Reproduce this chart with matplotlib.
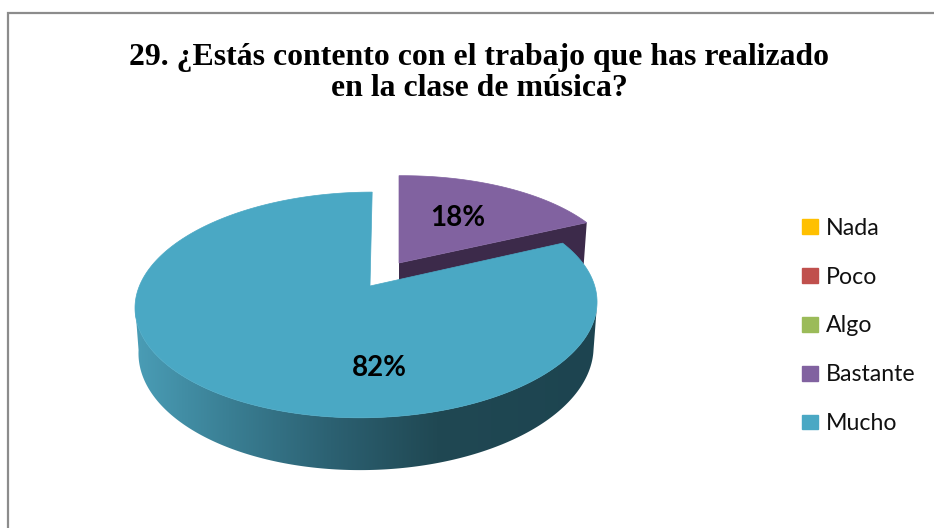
#!/usr/bin/env python3
"""Pseudo-3D exploded pie for survey question 29."""
import numpy as np
import matplotlib
matplotlib.use("Agg")
import matplotlib.pyplot as plt
import matplotlib.patches as mpatches
from matplotlib.colors import LinearSegmentedColormap

categories = ["Nada", "Poco", "Algo", "Bastante", "Mucho"]
values = [0, 0, 0, 18, 82]
title = "29. ¿Estás contento con el trabajo que has realizado\nen la clase de música?"

COLORS = ["#FFC000", "#C0504D", "#9BBB59", "#8162A0", "#4AA8C4"]
SIDE_PURPLE = "#3C2A4A"
WALL_CMAP = LinearSegmentedColormap.from_list(
    "wall", [(0.0, "#4A9DB6"), (0.2, "#3A7F94"), (0.42, "#2C6172"),
             (0.65, "#204853"), (1.0, "#1D4450")])

# perspective disc, in pixels
X0, Y0 = 367.0, 287.0
A, B, K, SKEW = 228.0, 110.0, 0.159, 6.0
DEPTH = 44.0


def rim(theta, sx=1.0, sy=1.0, x0=X0, y0=Y0):
    """Outer edge of the disc; theta runs clockwise from 12 o'clock."""
    u, v = np.sin(theta), np.cos(theta)
    w = 1 + K * v
    return x0 + sx * (A * u + SKEW * v) / w, y0 - sy * B * v / w


def depth_at(theta):
    return DEPTH / (1 + K * np.cos(theta))


fig = plt.figure(figsize=(9.34, 5.28), dpi=100)
ax = fig.add_axes([0, 0, 1, 1])
ax.set_xlim(0, 934)
ax.set_ylim(528, 0)
ax.axis("off")

ax.plot([8, 8, 936], [530, 13, 13], color="#8C8C8C", lw=1.6, solid_joinstyle="miter")

fractions = np.array(values) / sum(values)
ends = np.cumsum(fractions) * 2 * np.pi
starts = ends - fractions * 2 * np.pi

# Bastante: exploded slice with its cut face
i = categories.index("Bastante")
t = np.linspace(starts[i], ends[i], 80)
apex_x, apex_y = 399.0, 263.0
px, py = rim(t, 0.97, 0.92, x0=apex_x - 2, y0=apex_y)
px[0] = apex_x
cx, cy = px[-1], py[-1]
d = depth_at(ends[i])
ax.fill([apex_x, cx, cx - 3, apex_x], [apex_y, cy, cy + d, apex_y + d],
        color=SIDE_PURPLE, lw=0, zorder=2)
ax.fill(np.r_[apex_x, px], np.r_[apex_y, py], color=COLORS[i], lw=0.5, zorder=3)
ax.text(458, 218, f"{values[i]}%", ha="center", va="center", fontsize=20,
        fontweight="bold", family="Lato", zorder=6)

# Mucho: outer wall with a left-to-right shading, then the top face
i = categories.index("Mucho")
t_wall = np.linspace(np.arccos(-K), 2 * np.pi - np.arccos(-K), 200)
wx, wy = rim(t_wall)
bx, by = rim(t_wall, 0.985)
by = by + depth_at(t_wall)
wall = mpatches.Polygon(np.c_[np.r_[wx, bx[::-1]], np.r_[wy, by[::-1]]],
                        closed=True, fc="none", ec="none", transform=ax.transData)
ax.add_patch(wall)
im = ax.imshow(np.linspace(0, 1, 256).reshape(1, -1), cmap=WALL_CMAP, aspect="auto",
               extent=(135, 600, 528, 0), zorder=4)
im.set_clip_path(wall)
ax.set_xlim(0, 934)
ax.set_ylim(528, 0)

t = np.linspace(starts[i], ends[i], 300)
mx, my = rim(t)
ax.fill(np.r_[370.0, mx], np.r_[286.0, my], color=COLORS[i], lw=0.5, zorder=5)
ax.text(379, 368, f"{values[i]}%", ha="center", va="center", fontsize=20,
        fontweight="bold", family="Lato", zorder=6)

ax.text(479, 73, title, ha="center", va="center", fontsize=22.9, fontweight="bold",
        family="Liberation Serif", linespacing=1.13)

handles = [mpatches.Patch(color=c, label=n) for c, n in zip(COLORS, categories)]
ax.legend(handles=handles, loc="center left", bbox_to_anchor=(802, 326),
          bbox_transform=ax.transData, frameon=False, borderpad=0, borderaxespad=0,
          prop={"family": "Lato", "size": 16.7}, labelcolor="#111111",
          handlelength=0.69, handleheight=0.6, handletextpad=0.33, labelspacing=1.2)

fig.savefig("out.png", dpi=100)
